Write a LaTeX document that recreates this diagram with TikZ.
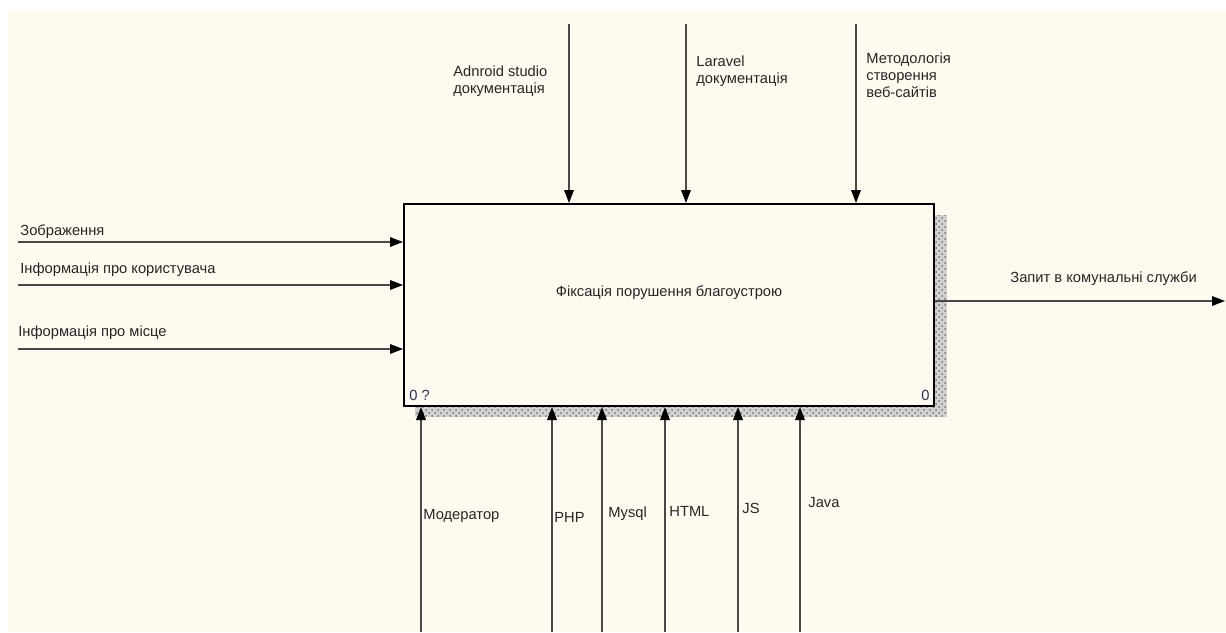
\documentclass[tikz,border=0pt]{standalone}
\usepackage{fontspec}
\setmainfont{Liberation Sans}
\usetikzlibrary{arrows.meta,patterns}
\definecolor{paper}{RGB}{255,250,240}
\definecolor{wire}{RGB}{72,72,72}
\definecolor{numcol}{RGB}{40,48,90}
\tikzset{
  lbl/.style={anchor=west, inner sep=0pt, align=left, text=black!85,
    font=\fontsize{7.35}{8.6}\selectfont},
  arr/.style={draw=wire, line width=0.7pt,
    -{Triangle[length=6.5pt,width=4.8pt,color=black]}},
  fnbox/.style={draw=black, line width=1pt, fill=paper, inner sep=0pt,
    minimum width=265pt, minimum height=101pt},
  shadowfill/.style={fill=gray!35, postaction={pattern=crosshatch dots, pattern color=gray!90!black}}
}
\begin{document}
\begin{tikzpicture}[x=0.5pt, y=-0.5pt]
  % Canvas
  \useasboundingbox (0,0) rectangle (1226,632);
  \fill[white] (0,0) rectangle (1226,632);
  \fill[paper] (8,10) rectangle (1226,632);

  % Shadow of the function box
  \fill[shadowfill] (934,215) rectangle (947,417);
  \fill[shadowfill] (415,406) rectangle (934,417);

  % Function box
  \node[fnbox] (func) at (669,305) {};
  \node[lbl, anchor=center] (ftitle) at (669,293) {Фіксація порушення благоустрою};
  \node[lbl, text=numcol] (nodeno) at (409,395) {0 ?};
  \node[lbl, anchor=east, text=numcol] (boxno) at (930,395) {0};

  % Inputs
  \coordinate (in1) at (18,242);
  \coordinate (in2) at (18,285);
  \coordinate (in3) at (18,349);
  \draw[arr] (in1) -- (in1 -| func.west);
  \draw[arr] (in2) -- (in2 -| func.west);
  \draw[arr] (in3) -- (in3 -| func.west);
  \node[lbl] (inlbl1) at (20,232) {Зображення};
  \node[lbl] (inlbl2) at (20,270) {Інформація про користувача};
  \node[lbl] (inlbl3) at (18,333) {Інформація про місце};

  % Controls
  \coordinate (ctl1) at (569,24);
  \coordinate (ctl2) at (686,24);
  \coordinate (ctl3) at (856,24);
  \draw[arr] (ctl1) -- (ctl1 |- func.north);
  \draw[arr] (ctl2) -- (ctl2 |- func.north);
  \draw[arr] (ctl3) -- (ctl3 |- func.north);
  \node[lbl] (ctllbl1) at (453,81) {Adnroid studio\\документація};
  \node[lbl] (ctllbl2) at (696,71) {Laravel\\документація};
  \node[lbl] (ctllbl3) at (866,75) {Методологія\\створення\\веб-сайтів};

  % Mechanisms
  \foreach \name/\xx in {mech1/421, mech2/552, mech3/602, mech4/665, mech5/738, mech6/800}
    \coordinate (\name) at (\xx,632);
  \foreach \name in {mech1,mech2,mech3,mech4,mech5,mech6}
    \draw[arr] (\name) -- (\name |- func.south);
  \node[lbl] (mlbl1) at (423,516) {Модератор};
  \node[lbl] (mlbl2) at (554,517) {PHP};
  \node[lbl] (mlbl3) at (608,514) {Mysql};
  \node[lbl] (mlbl4) at (669,511) {HTML};
  \node[lbl] (mlbl5) at (742,508) {JS};
  \node[lbl] (mlbl6) at (808,503) {Java};

  % Output
  \coordinate (out1) at (1225,301);
  \draw[arr] (func.east |- out1) -- (out1);
  \node[lbl] (outlbl) at (1010,279) {Запит в комунальні служби};
\end{tikzpicture}
\end{document}
